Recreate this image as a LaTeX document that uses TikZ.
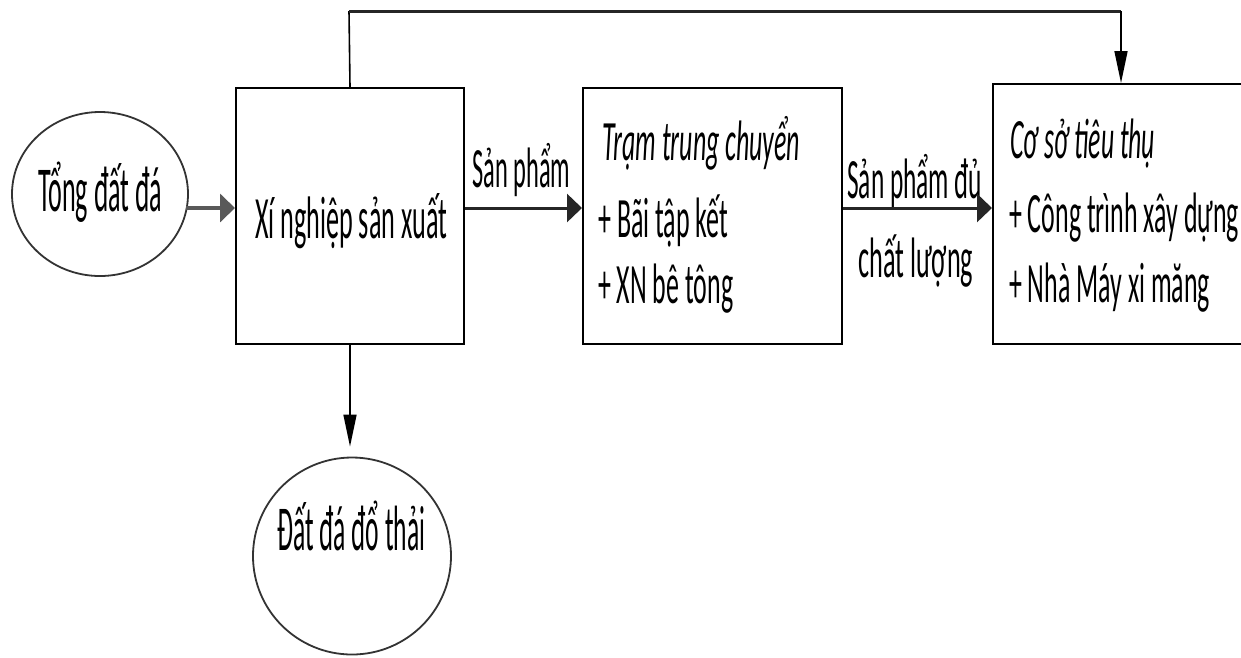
\documentclass[tikz,border=0pt]{standalone}
\usepackage{fontspec}
\setmainfont{Carlito}
\usepackage{graphicx}
\usetikzlibrary{arrows.meta,shapes.geometric}
\newcommand\fw[2]{\resizebox{#1}{\height}{#2}}
\begin{document}
\begin{tikzpicture}[x=1pt,y=-1pt,
  box/.style={draw,line width=2pt,inner sep=0pt,anchor=north west},
  oval/.style={draw,ellipse,line width=1.8pt,draw=black!80,inner sep=0pt},
  txt/.style={anchor=base west,inner sep=0pt,font=\fontsize{57pt}{68pt}\selectfont},
  bigtxt/.style={txt,font=\fontsize{64pt}{76pt}\selectfont},
  hline/.style={line width=3pt,draw=black!85},
  vline/.style={line width=1.6pt},
  harrow/.style={hline,-{Triangle[length=15pt,width=28pt]}},
  varrow/.style={vline,-{Triangle[length=32pt,width=13pt]}}]
\useasboundingbox (0,0) rectangle (1241,657);

% shapes
\node[oval,minimum width=176pt,minimum height=164pt] (c1) at (100,194) {};
\node[oval,minimum width=198pt,minimum height=197pt] (c2) at (352,556) {};
\node[box,minimum width=228pt,minimum height=256pt] (b1) at (235,87) {};
\node[box,minimum width=259pt,minimum height=256pt] (b2) at (582,87) {};
\node[box,minimum width=270pt,minimum height=260pt] (b3) at (992,83) {};

% texts
\node[bigtxt] (t1) at (38,211) {\fw{124pt}{Tổng đất đá}};
\node[txt,font=\fontsize{60pt}{72pt}\selectfont] (t2) at (255,238) {\fw{192pt}{Xí nghiệp sản xuất}};
\node[txt] (t3) at (472,187) {\fw{98pt}{Sản phẩm}};
\node[txt] (t4) at (602,160) {\fw{198pt}{\itshape Trạm trung chuyển}};
\node[txt] (t5) at (598,237) {\fw{130pt}{+ Bãi tập kết}};
\node[txt] (t6) at (598,303) {\fw{135pt}{+ XN bê tông}};
\node[txt] (t7) at (847,198) {\fw{135pt}{Sản phẩm đủ}};
\node[txt] (t8) at (858,277) {\fw{115pt}{chất lượng}};
\node[txt] (t9) at (1010,158) {\fw{145pt}{\itshape Cơ sở tiêu thụ}};
\node[txt] (t10) at (1009,232) {\fw{230pt}{+ Công trình xây dựng}};
\node[txt] (t11) at (1009,302) {\fw{201pt}{+ Nhà Máy xi măng}};
\node[bigtxt] (t12) at (277,550) {\fw{148pt}{Đất đá đổ thải}};

% connectors
\coordinate (a1) at (186,208);
\draw[harrow,line width=4pt,draw=black!65] (a1) -- (a1 -| b1.west);
\draw[harrow] (b1.east |- a1) -- (b2.west |- a1);
\draw[harrow] (b2.east |- a1) -- (b3.west |- a1);

\coordinate (tl) at (349,11);
\coordinate (tr) at (1121,11);
\coordinate (t3in) at (1121,83);
\draw[vline] (b1.north) -- (tl);
\draw[hline] (tl) -- (tr);
\draw[varrow] (tr) -- (t3in);

\draw[varrow,shorten >=10pt] (b1.south) -- (b1.south |- c2.north);
\end{tikzpicture}
\end{document}
